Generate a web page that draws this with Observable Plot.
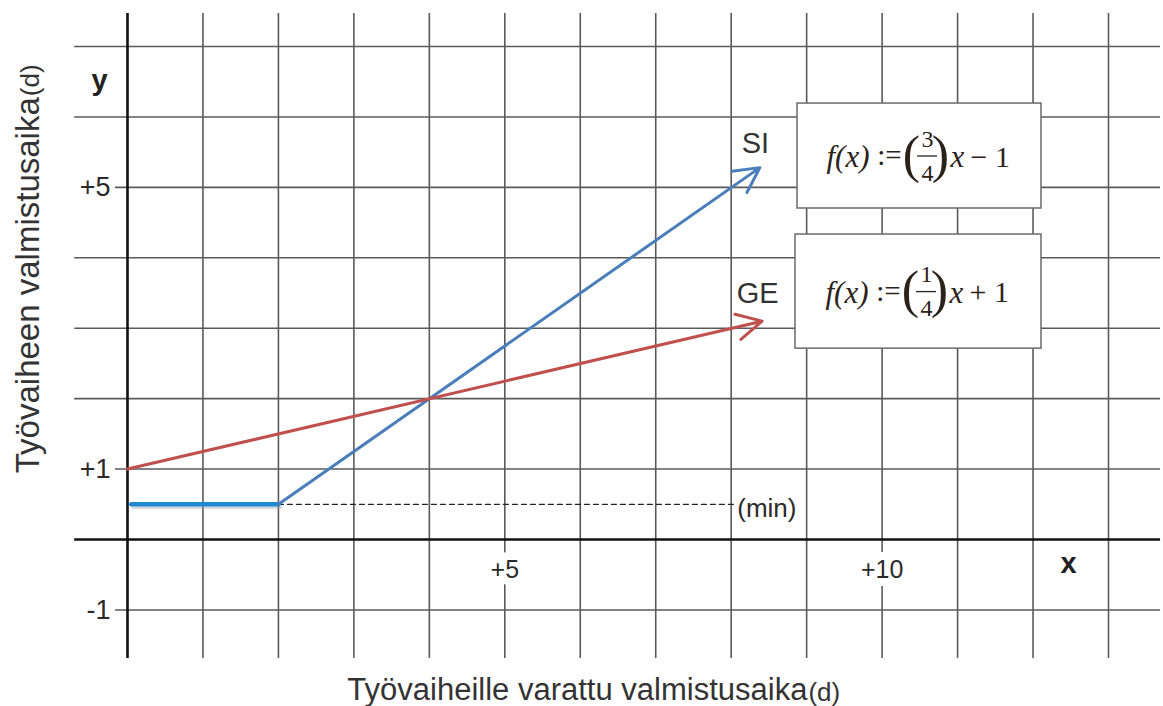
<!DOCTYPE html>
<html>
<head>
<meta charset="utf-8">
<script src="https://cdn.jsdelivr.net/npm/d3@7"></script>
<script src="https://cdn.jsdelivr.net/npm/@observablehq/plot@0.6"></script>
<style>
  html, body { margin: 0; padding: 0; background: #fff; }
  #chart svg { display: block; }
</style>
</head>
<body>
<div id="chart"></div>
<script>
// ---------- data ----------
const gridX = [0, 1, 2, 3, 4, 5, 6, 7, 8, 9, 10, 11, 12, 13];
const gridY = [-1, 0, 1, 2, 3, 4, 5, 6, 7];
const yTickValues = [-1, 1, 5];
const yTickLabels = ["-1", "+1", "+5"];
const xTickValues = [5, 10];
const xTickLabels = ["+5", "+10"];

// SI: flat minimum segment, then rising line  f(x) = 3/4 x - 1
const siX = [0.05, 2, 8.38];
const siY = [0.5, 0.5, 5.28];
// GE: f(x) = 1/4 x + 1
const geX = [0, 8.41];
const geY = [1, 3.1];
// minimum level (dashed)
const minX = [2, 8.03];
const minY = [0.5, 0.5];

const seriesNames = ["SI", "GE"];
const numerators = ["3", "1"];
const denominators = ["4", "4"];
const tails = ["− 1", "+ 1"];

const xTitle = "Työvaiheille varattu valmistusaika";
const yTitle = "Työvaiheen valmistusaika";
const unit = "(d)";
const minLabel = "(min)";

// ---------- layout (annotation placement, data units) ----------
const kx = 981 / 13, ky = 493 / 7;
const W = 1163, H = 706;
const layout = {
  xDomain: [-127 / kx, (W - 127) / kx],
  yDomain: [-(H - 539) / ky, 539 / ky],
  gridXExtent: [-1.69, 7.47],
  gridYExtent: [-0.70, 13.69],
  gridYLabelledStart: -0.16,
  boxes: [
    {x1: 8.879, x2: 12.112, y1: 4.70, y2: 6.19},
    {x1: 8.852, x2: 12.112, y1: 2.71, y2: 4.33}
  ],
  seriesLabel: [{x: 8.32, y: 5.62}, {x: 8.35, y: 3.49}],
  yTickX: -0.225,
  xTickY: -0.43,
  xLetter: {x: 12.47, y: -0.34},
  yLetter: {x: -0.37, y: 6.52},
  minLabel: {x: 8.08, y: 0.44},
  xTitle: {x: 9.01, y: -2.14},
  yTitle: {x: -1.31, y: 6.28}
};

const boxes = layout.boxes.map((b, i) => ({
  ...b, cx: (b.x1 + b.x2) / 2, cy: (b.y1 + b.y2) / 2,
  name: seriesNames[i], num: numerators[i], den: denominators[i], tail: tails[i],
  lx: layout.seriesLabel[i].x, ly: layout.seriesLabel[i].y
}));

const gridColor = "#5a5a5a";
const blue = "#4a7ebb";
const blueFlat = "#1f8ad2";
const red = "#c0504d";
const ink = "#2a2a2a";
const fSans = "Liberation Sans, Arial, sans-serif";
const fSerif = "Liberation Serif, DejaVu Serif, serif";
const mathInk = "#2b2219";

try {
const chart = Plot.plot({
  width: W,
  height: H,
  margin: 0,
  style: {background: "#fff", overflow: "visible"},
  x: {domain: layout.xDomain, axis: null},
  y: {domain: layout.yDomain, axis: null},
  marks: [
    // grid
    Plot.ruleX(gridX.filter(d => d !== 0), {x: d => d, y1: layout.gridXExtent[0], y2: layout.gridXExtent[1], stroke: gridColor, strokeWidth: 1.6}),
    Plot.ruleY(gridY.filter(d => d !== 0), {y: d => d, x1: d => yTickValues.includes(d) ? layout.gridYLabelledStart : layout.gridYExtent[0], x2: layout.gridYExtent[1], stroke: gridColor, strokeWidth: 1.6}),
    // axes
    Plot.ruleX([0], {x: d => d, y1: layout.gridXExtent[0], y2: layout.gridXExtent[1], stroke: "#111", strokeWidth: 2.6}),
    Plot.ruleY([0], {y: d => d, x1: layout.gridYExtent[0], x2: layout.gridYExtent[1], stroke: "#111", strokeWidth: 2.6}),
    // tick labels
    Plot.text(yTickValues, {x: () => layout.yTickX, y: d => d, text: (d, i) => yTickLabels[i], fontSize: 27, fontFamily: fSans, fill: ink, textAnchor: "end"}),
    Plot.text(xTickValues, {x: d => d, y: () => layout.xTickY, text: (d, i) => xTickLabels[i], fontSize: 25, fontFamily: fSans, fill: ink, stroke: "white", strokeWidth: 16, textAnchor: "middle"}),
    // dashed minimum line
    Plot.line(minX.map((x, i) => ({x, y: minY[i]})), {x: "x", y: "y", stroke: "#222", strokeWidth: 1.3, strokeDasharray: "5,4"}),
    // SI flat segment with soft shadow
    Plot.line(siX.slice(0, 2).map((x, i) => ({x, y: siY[i]})), {x: "x", y: "y", stroke: "#999", strokeOpacity: 0.35, strokeWidth: 4, dx: 2, dy: 3}),
    Plot.line(siX.slice(0, 2).map((x, i) => ({x, y: siY[i]})), {x: "x", y: "y", stroke: blueFlat, strokeWidth: 4.5}),
    // SI arrow
    Plot.arrow([{x1: siX[1], y1: siY[1], x2: siX[2], y2: siY[2]}], {x1: "x1", y1: "y1", x2: "x2", y2: "y2", stroke: blue, strokeWidth: 3, headLength: 14, headAngle: 55}),
    // GE arrow
    Plot.arrow([{x1: geX[0], y1: geY[0], x2: geX[1], y2: geY[1]}], {x1: "x1", y1: "y1", x2: "x2", y2: "y2", stroke: red, strokeWidth: 3, headLength: 14, headAngle: 55}),
    // formula boxes
    Plot.rect(boxes, {x1: "x1", x2: "x2", y1: "y1", y2: "y2", fill: "white", stroke: "#6b6b6b", strokeWidth: 1.5}),
    // formulas
    Plot.text(boxes, {x: "cx", y: "cy", text: () => "f(x)", dx: -50, dy: 1, textAnchor: "end", fontSize: 31, fontStyle: "italic", fontFamily: fSerif, fill: mathInk}),
    Plot.text(boxes, {x: "cx", y: "cy", text: () => ":=", dx: -30, dy: 0, textAnchor: "middle", fontSize: 29, fontFamily: fSerif, fill: mathInk}),
    Plot.text(boxes, {x: "cx", y: "cy", text: () => "(", dx: -8, dy: -1, textAnchor: "middle", fontSize: 52, fontFamily: fSerif, fill: mathInk}),
    Plot.text(boxes, {x: "cx", y: "cy", text: () => ")", dx: 21, dy: -1, textAnchor: "middle", fontSize: 52, fontFamily: fSerif, fill: mathInk}),
    Plot.text(boxes, {x: "cx", y: "cy", text: "num", dx: 8, dy: -17, textAnchor: "middle", fontSize: 24, fontFamily: fSerif, fill: mathInk}),
    Plot.text(boxes, {x: "cx", y: "cy", text: "den", dx: 8, dy: 17, textAnchor: "middle", fontSize: 24, fontFamily: fSerif, fill: mathInk}),
    Plot.ruleY(boxes, {y: "cy", x1: d => d.cx - 2 / kx, x2: d => d.cx + 18 / kx, stroke: mathInk, strokeWidth: 1.3}),
    Plot.text(boxes, {x: "cx", y: "cy", text: () => "x", dx: 31, dy: 1, textAnchor: "start", fontSize: 31, fontFamily: fSerif, fontStyle: "italic", fill: mathInk}),
    Plot.text(boxes, {x: "cx", y: "cy", text: "tail", dx: 51, dy: 1, textAnchor: "start", fontSize: 30, fontFamily: fSerif, fill: mathInk}),
    // series labels
    Plot.text(boxes, {x: "lx", y: "ly", text: "name", fontSize: 29, fontFamily: fSans, fill: "#333"}),
    Plot.text([minLabel], {x: () => layout.minLabel.x, y: () => layout.minLabel.y, text: d => d, textAnchor: "start", fontSize: 26, fontFamily: fSans, fill: ink}),
    // axis letters
    Plot.text(["x"], {x: () => layout.xLetter.x, y: () => layout.xLetter.y, text: d => d, fontSize: 29, fontWeight: "bold", fontFamily: fSans, fill: "#222"}),
    Plot.text(["y"], {x: () => layout.yLetter.x, y: () => layout.yLetter.y, text: d => d, fontSize: 29, fontWeight: "bold", fontFamily: fSans, fill: "#222"}),
    // axis titles
    Plot.text([xTitle], {x: () => layout.xTitle.x, y: () => layout.xTitle.y, text: d => d, textAnchor: "end", fontSize: 31, fontFamily: fSans, fill: "#333"}),
    Plot.text([unit], {x: () => layout.xTitle.x, y: () => layout.xTitle.y, text: d => d, textAnchor: "start", dx: 1, dy: 2, fontSize: 26, fontFamily: fSans, fill: "#333"}),
    Plot.text([yTitle], {x: () => layout.yTitle.x, y: () => layout.yTitle.y, text: d => d, textAnchor: "end", rotate: -90, fontSize: 33, fontFamily: fSans, fill: "#333"}),
    Plot.text([unit], {x: () => layout.yTitle.x, y: () => layout.yTitle.y, text: d => d, textAnchor: "start", rotate: -90, dy: -1, dx: 2, fontSize: 26, fontFamily: fSans, fill: "#333"})
  ]
});
document.getElementById("chart").appendChild(chart);
} catch (e) {
  document.getElementById("chart").textContent = "ERROR: " + e.message;
}
</script>
</body>
</html>
